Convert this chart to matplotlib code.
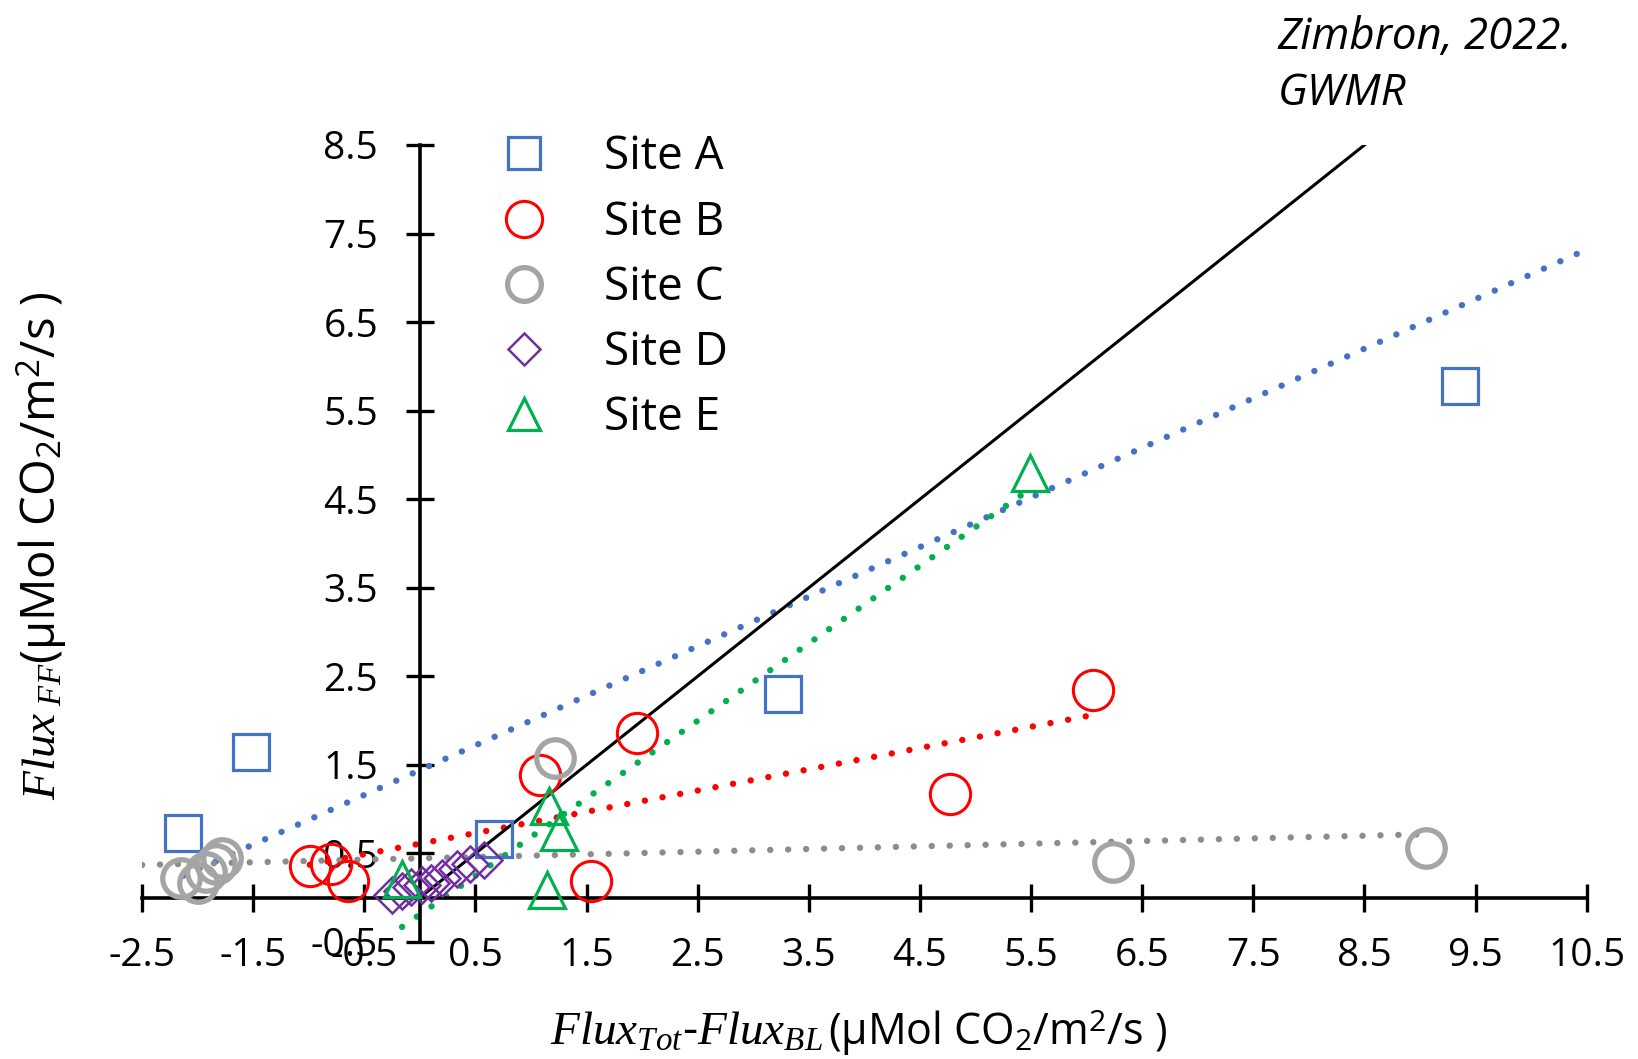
import numpy as np
import matplotlib.pyplot as plt

plt.rcParams['font.family'] = ['Open Sans', 'DejaVu Sans']
plt.rcParams['mathtext.fontset'] = 'custom'
plt.rcParams['mathtext.it'] = 'Liberation Serif:italic'
plt.rcParams['mathtext.rm'] = 'Open Sans'

# valores (x = Flux_Tot - Flux_BL, y = Flux_FF)
site_a_x = [-2.13, -1.52, 0.67, 3.27, 9.36]
site_a_y = [0.73, 1.64, 0.66, 2.30, 5.78]
site_b_x = [-0.99, -0.80, -0.65, 1.08, 1.54, 1.95, 4.77, 6.06]
site_b_y = [0.36, 0.38, 0.19, 1.39, 0.19, 1.86, 1.17, 2.35]
site_c_x = [-2.15, -2.00, -1.92, -1.83, -1.78, 1.22, 6.24, 9.05]
site_c_y = [0.22, 0.17, 0.29, 0.38, 0.45, 1.58, 0.40, 0.56]
site_d_x = [-0.25, -0.16, -0.08, 0.02, 0.10, 0.20, 0.33, 0.45, 0.58]
site_d_y = [0.03, 0.08, 0.12, 0.14, 0.17, 0.22, 0.32, 0.38, 0.43]
site_e_x = [-0.16, 1.14, 1.16, 1.25, 5.49]
site_e_y = [0.21, 0.09, 1.04, 0.74, 4.80]

# linhas de tendencia: (inclinacao, intercepto, x inicial, x final)
trend_a = (0.56, 1.44, -2.13, 10.5)
trend_b = (0.24, 0.61, -0.99, 6.06)
trend_c = (0.03, 0.445, -2.5, 9.05)
trend_e = (0.875, -0.19, -0.16, 5.49)

# linha 1:1
linha_11 = [0, 8.5]

x_ticks = np.arange(-2.5, 10.6, 1.0)
y_ticks = np.arange(-0.5, 8.6, 1.0)

fig = plt.figure(figsize=(16.38, 10.59), dpi=100)
ax = fig.add_axes([0.0867, 0.1105, 0.882, 0.7526])

dots = (0, (0.01, 2.8))
for (m, b, x0, x1), cor in [(trend_a, '#4472C4'), (trend_b, '#FF0000'),
                            (trend_c, '#8C8C8C'), (trend_e, '#00B050')]:
    xs = np.array([x0, x1])
    ax.plot(xs, m * xs + b, color=cor, lw=4.6, linestyle=dots,
            dash_capstyle='round', zorder=2)

ax.plot(linha_11, linha_11, color='black', lw=2.2, zorder=3)

ax.plot(site_a_x, site_a_y, 's', ms=26, mfc='none', mec='#4472C4', mew=2.3,
        label='Site A', zorder=4, clip_on=False)
ax.plot(site_b_x, site_b_y, 'o', ms=29, mfc='none', mec='#FF0000', mew=2.2,
        label='Site B', zorder=4, clip_on=False)
ax.plot(site_c_x, site_c_y, 'o', ms=27, mfc='none', mec='#A5A5A5', mew=3.8,
        label='Site C', zorder=4, clip_on=False)
ax.plot(site_d_x, site_d_y, 'D', ms=18, mfc='none', mec='#7030A0', mew=1.8,
        label='Site D', zorder=4, clip_on=False)
ax.plot(site_e_x, site_e_y, '^', ms=26, mfc='none', mec='#00B050', mew=2.3,
        label='Site E', zorder=4, clip_on=False)

ax.set_xlim(-2.5, 10.5)
ax.set_ylim(-0.5, 8.5)
ax.spines['left'].set_position(('data', 0))
ax.spines['bottom'].set_position(('data', 0))
ax.spines['top'].set_visible(False)
ax.spines['right'].set_visible(False)
for s in ['left', 'bottom']:
    ax.spines[s].set_linewidth(2.6)
ax.set_xticks(x_ticks)
ax.set_yticks(y_ticks)
ax.set_xticklabels([f'{v:.1f}' for v in x_ticks])
ax.set_yticklabels([f'{v:.1f}' for v in y_ticks])
ax.tick_params(axis='both', direction='inout', length=20, width=2.4,
               labelsize=28, colors='black')
ax.tick_params(axis='x', pad=18)
ax.tick_params(axis='y', pad=20)
ax.patch.set_alpha(0)

leg = ax.legend(loc='upper left', bbox_to_anchor=(0.306, 0.873),
                bbox_transform=fig.transFigure, frameon=False, fontsize=33,
                numpoints=1, markerscale=0.9, handlelength=1.0,
                handletextpad=1.24, labelspacing=0.42, borderpad=0,
                borderaxespad=0)

# titulo do eixo x: parte serifada + parte sem serifa
fig.text(0.5026, 0.0132,
         r'$\mathit{Flux}_{\mathit{Tot}}$-$\mathit{Flux}_{\mathit{BL}}$',
         ha='right', va='baseline', fontsize=34)
fig.text(0.5057, 0.0132, r'(µMol CO$_2$/m$^2$/s )',
         ha='left', va='baseline', fontsize=31)

fig.text(0.0256, 0.485,
         r'$\mathit{Flux}_{\ \mathit{FF}}$(µMol CO$_2$/m$^2$/s )',
         ha='center', va='center', fontsize=34, rotation=90)

fig.text(0.78, 0.985, 'Zimbron, 2022.\nGWMR', ha='left', va='top',
         fontsize=31.5, style='italic', linespacing=1.34)

fig.savefig('out.png', dpi=100)
